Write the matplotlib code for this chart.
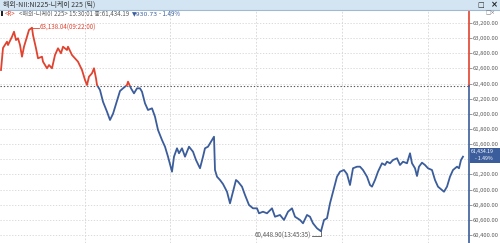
import matplotlib
matplotlib.use("Agg")
import matplotlib.pyplot as plt
from matplotlib.patches import Rectangle

# ================= DATA =================
TITLE = "해외-NII:NI225-니케이 225 (틱)"
SYMBOL = "<해외-니케이 225>"
LAST_TIME = "15:30:01"
LAST_PRICE = 61434.19
CHANGE = -930.73
CHANGE_PCT = -1.49
PREV_CLOSE = LAST_PRICE - CHANGE

HIGH_LABEL = "63,138.04(09:22:00)"
LOW_LABEL = "60,448.90(13:45:35)"

# tick number (sequence position) and traded price
ticks = [1, 3, 7, 8, 12, 14, 16, 18, 20, 22, 24, 27, 29, 32, 33, 36, 38, 42, 43, 47,
         49, 52, 55, 58, 61, 63, 67, 68, 72, 75, 78, 82, 85, 87, 89, 92, 94, 96, 97, 100,
         103, 107, 110, 113, 117, 120, 123, 127, 128, 131, 134, 137, 140, 142, 145, 148, 152, 155, 158, 162,
         165, 168, 172, 174, 177, 179, 182, 185, 189, 193, 196, 200, 203, 205, 208, 212, 214, 215, 217, 220,
         223, 227, 230, 233, 236, 238, 242, 245, 249, 253, 257, 259, 263, 267, 272, 275, 280, 284, 288, 292,
         295, 300, 303, 307, 310, 313, 317, 321, 324, 327, 330, 333, 337, 340, 344, 347, 350, 353, 357, 360,
         363, 367, 370, 372, 375, 378, 382, 385, 387, 390, 393, 397, 400, 403, 407, 410, 412, 415, 417, 419,
         422, 425, 428, 432, 435, 438, 442, 444, 447, 450, 453, 457, 459, 461, 463]
prices = [62579, 62870, 62953, 62909, 63019, 63085, 62975, 62998, 62909, 62755,
          62887, 63019, 63108, 63138.04, 63041, 62866, 62734, 62755, 62689, 62602,
          62645, 62602, 62777, 62866, 62800, 62887, 62843, 62887, 62777, 62734,
          62689, 62579, 62447, 62381, 62491, 62536, 62602, 62469, 62381, 62315,
          62160, 62028, 61919, 62000, 62170, 62302, 62337, 62381, 62425, 62337,
          62271, 62337, 62337, 62292, 62139, 62051, 62073, 61962, 61787, 61654,
          61566, 61434, 61236, 61434, 61545, 61479, 61545, 61434, 61566, 61500,
          61390, 61281, 61434, 61545, 61566, 61654, 61698, 61258, 61170, 61126,
          61073, 60971, 60818, 60971, 61126, 61104, 61038, 60928, 60796, 60752,
          60752, 60686, 60707, 60686, 60752, 60641, 60664, 60598, 60707, 60752,
          60641, 60598, 60554, 60664, 60641, 60554, 60488, 60448.90, 60598, 60620,
          60818, 60971, 61170, 61236, 61258, 61205, 61060, 61281, 61302, 61302,
          61258, 61170, 61060, 61038, 61126, 61236, 61347, 61324, 61368, 61347,
          61390, 61413, 61324, 61368, 61347, 61479, 61347, 61281, 61179, 61302,
          61355, 61324, 61281, 61258, 61126, 61038, 60994, 60971, 61038, 61170,
          61258, 61302, 61281, 61390, 61434.19]

y_ticks = [60400, 60600, 60800, 61000, 61200, 61400, 61600, 61800,
           62000, 62200, 62400, 62600, 62800, 63000, 63200]
time_grid = [85, 170, 256, 342, 428]

# ================= STYLE =================
RED = "#e0432f"
BLUE = "#3b5d9b"
GRID = "#d4d4d4"
TXT = "#5a5a5a"
plt.rcParams["font.family"] = ["Noto Sans CJK KR", "DejaVu Sans"]

W, H = 500, 243
fig = plt.figure(figsize=(W / 100, H / 100), dpi=100)
fig.patch.set_facecolor("white")

# title bar
fig.patches.append(Rectangle((0, 1 - 10 / H), 1, 10 / H, transform=fig.transFigure,
                             facecolor="#d3e4f2", edgecolor="none", zorder=0))
fig.lines.append(plt.Line2D([0, 1], [1 - 10 / H, 1 - 10 / H], transform=fig.transFigure,
                            color="#9fb9d3", lw=0.8))
fig.text(3 / W, 1 - 5 / H, TITLE, fontsize=5, color="#333333", va="center", ha="left")
fig.text(481 / W, 1 - 5 / H, "□", fontsize=5, color="#222222", va="center", ha="center",
         family=["DejaVu Sans"])
fig.text(494 / W, 1 - 5 / H, "×", fontsize=6, color="#222222", va="center", ha="center",
         family=["DejaVu Sans"], fontweight="bold")

# ---------------- AXES ----------------
plot_right = 469
ax = fig.add_axes([0, 0, plot_right / W, (H - 10) / H])
xmax = plot_right
ymax = 63200 + 13 * 13.21
ymin = 63200 - 220 * 13.21
ax.set_xlim(0, xmax)
ax.set_ylim(ymin, ymax)
for s in ax.spines.values():
    s.set_visible(False)

ax.set_xticks([])
ax.yaxis.tick_right()
ax.set_yticks(y_ticks)
# the label hidden under the last-price badge is left blank
ax.set_yticklabels(["" if abs(v - LAST_PRICE) < 100 else f"{v:,.2f}" for v in y_ticks])
ax.tick_params(axis="y", length=2, width=0.6, color="#888888", pad=0.5,
               labelsize=4.2, labelcolor=TXT)

for v in y_ticks:
    ax.axhline(v, color=GRID, lw=0.6, ls=(0, (1.5, 2)), zorder=1)
for t in time_grid:
    ax.axvline(t, color=GRID, lw=0.6, ls=(0, (2, 2)), zorder=1)
ax.axhline(PREV_CLOSE, color="#555555", lw=0.8, ls=(0, (1.2, 1.8)), zorder=2)

# price line: red above previous close, blue below
line_up, = ax.plot(ticks, prices, color=RED, lw=1.3, zorder=3)
line_up.set_clip_path(Rectangle((-50, PREV_CLOSE), 1000, 10000, transform=ax.transData))
line_dn, = ax.plot(ticks, prices, color=BLUE, lw=1.3, zorder=3)
line_dn.set_clip_path(Rectangle((-50, PREV_CLOSE - 10000), 1000, 10000, transform=ax.transData))

# right axis line in two colors
ax.plot([xmax, xmax], [PREV_CLOSE, ymax], color=RED, lw=1.2, clip_on=False, zorder=4)
ax.plot([xmax, xmax], [ymin, PREV_CLOSE], color=BLUE, lw=1.2, clip_on=False, zorder=4)

# high / low annotations
hi = prices.index(max(prices))
lo = prices.index(min(prices))
ax.plot([ticks[hi], ticks[hi] + 7], [prices[hi], prices[hi]], color=RED, lw=0.6, zorder=4)
ax.text(ticks[hi] + 8, prices[hi], HIGH_LABEL, fontsize=4.5, color=RED, va="center", ha="left")
low_y = prices[lo] - 4.5 * 13.21
ax.plot([ticks[lo] - 9, ticks[lo], ticks[lo]], [low_y, low_y, prices[lo]],
        color="#555555", lw=0.6, zorder=4)
ax.text(ticks[lo] - 10, low_y, LOW_LABEL, fontsize=4.5, color=TXT, va="center", ha="right")

# last price badge
fig.patches.append(Rectangle((470 / W, 1 - 162.5 / H), 30 / W, 15 / H, transform=fig.transFigure,
                             facecolor=BLUE, edgecolor="none", zorder=5))
fig.text(471 / W, 1 - 151.3 / H, f"{LAST_PRICE:,.2f}", fontsize=3.7, color="white",
         va="center", ha="left", zorder=6)
fig.text(475 / W, 1 - 158.7 / H, f"- {abs(CHANGE_PCT):.2f}%", fontsize=3.7, color="white",
         va="center", ha="left", zorder=6)

# header line with last quote
fig.patches.append(Rectangle((1 / W, 1 - 16 / H), 1.5 / W, 4.5 / H, transform=fig.transFigure,
                             facecolor="#222222", edgecolor="none"))
fig.text(5 / W, 1 - 14 / H, "<R>", fontsize=4.4, color=RED, va="center", ha="left")
fig.text(19 / W, 1 - 14 / H, f"{SYMBOL} {LAST_TIME} 종:{LAST_PRICE:,.2f}",
         fontsize=4.4, color=TXT, va="center", ha="left")
fig.text(132 / W, 1 - 14 / H, f"▼{abs(CHANGE):,.2f}", fontsize=4.4, color=BLUE,
         va="center", ha="left", family=["DejaVu Sans", "Noto Sans CJK KR"])
fig.text(159 / W, 1 - 14 / H, f"- {abs(CHANGE_PCT):.2f}%", fontsize=4.4, color=BLUE,
         va="center", ha="left")
fig.text(486 / W, 1 - 13 / H, "□×", fontsize=4, color="#777777", va="center", ha="left",
         family=["DejaVu Sans"])

fig.savefig("out.png", dpi=100)
plt.close(fig)
